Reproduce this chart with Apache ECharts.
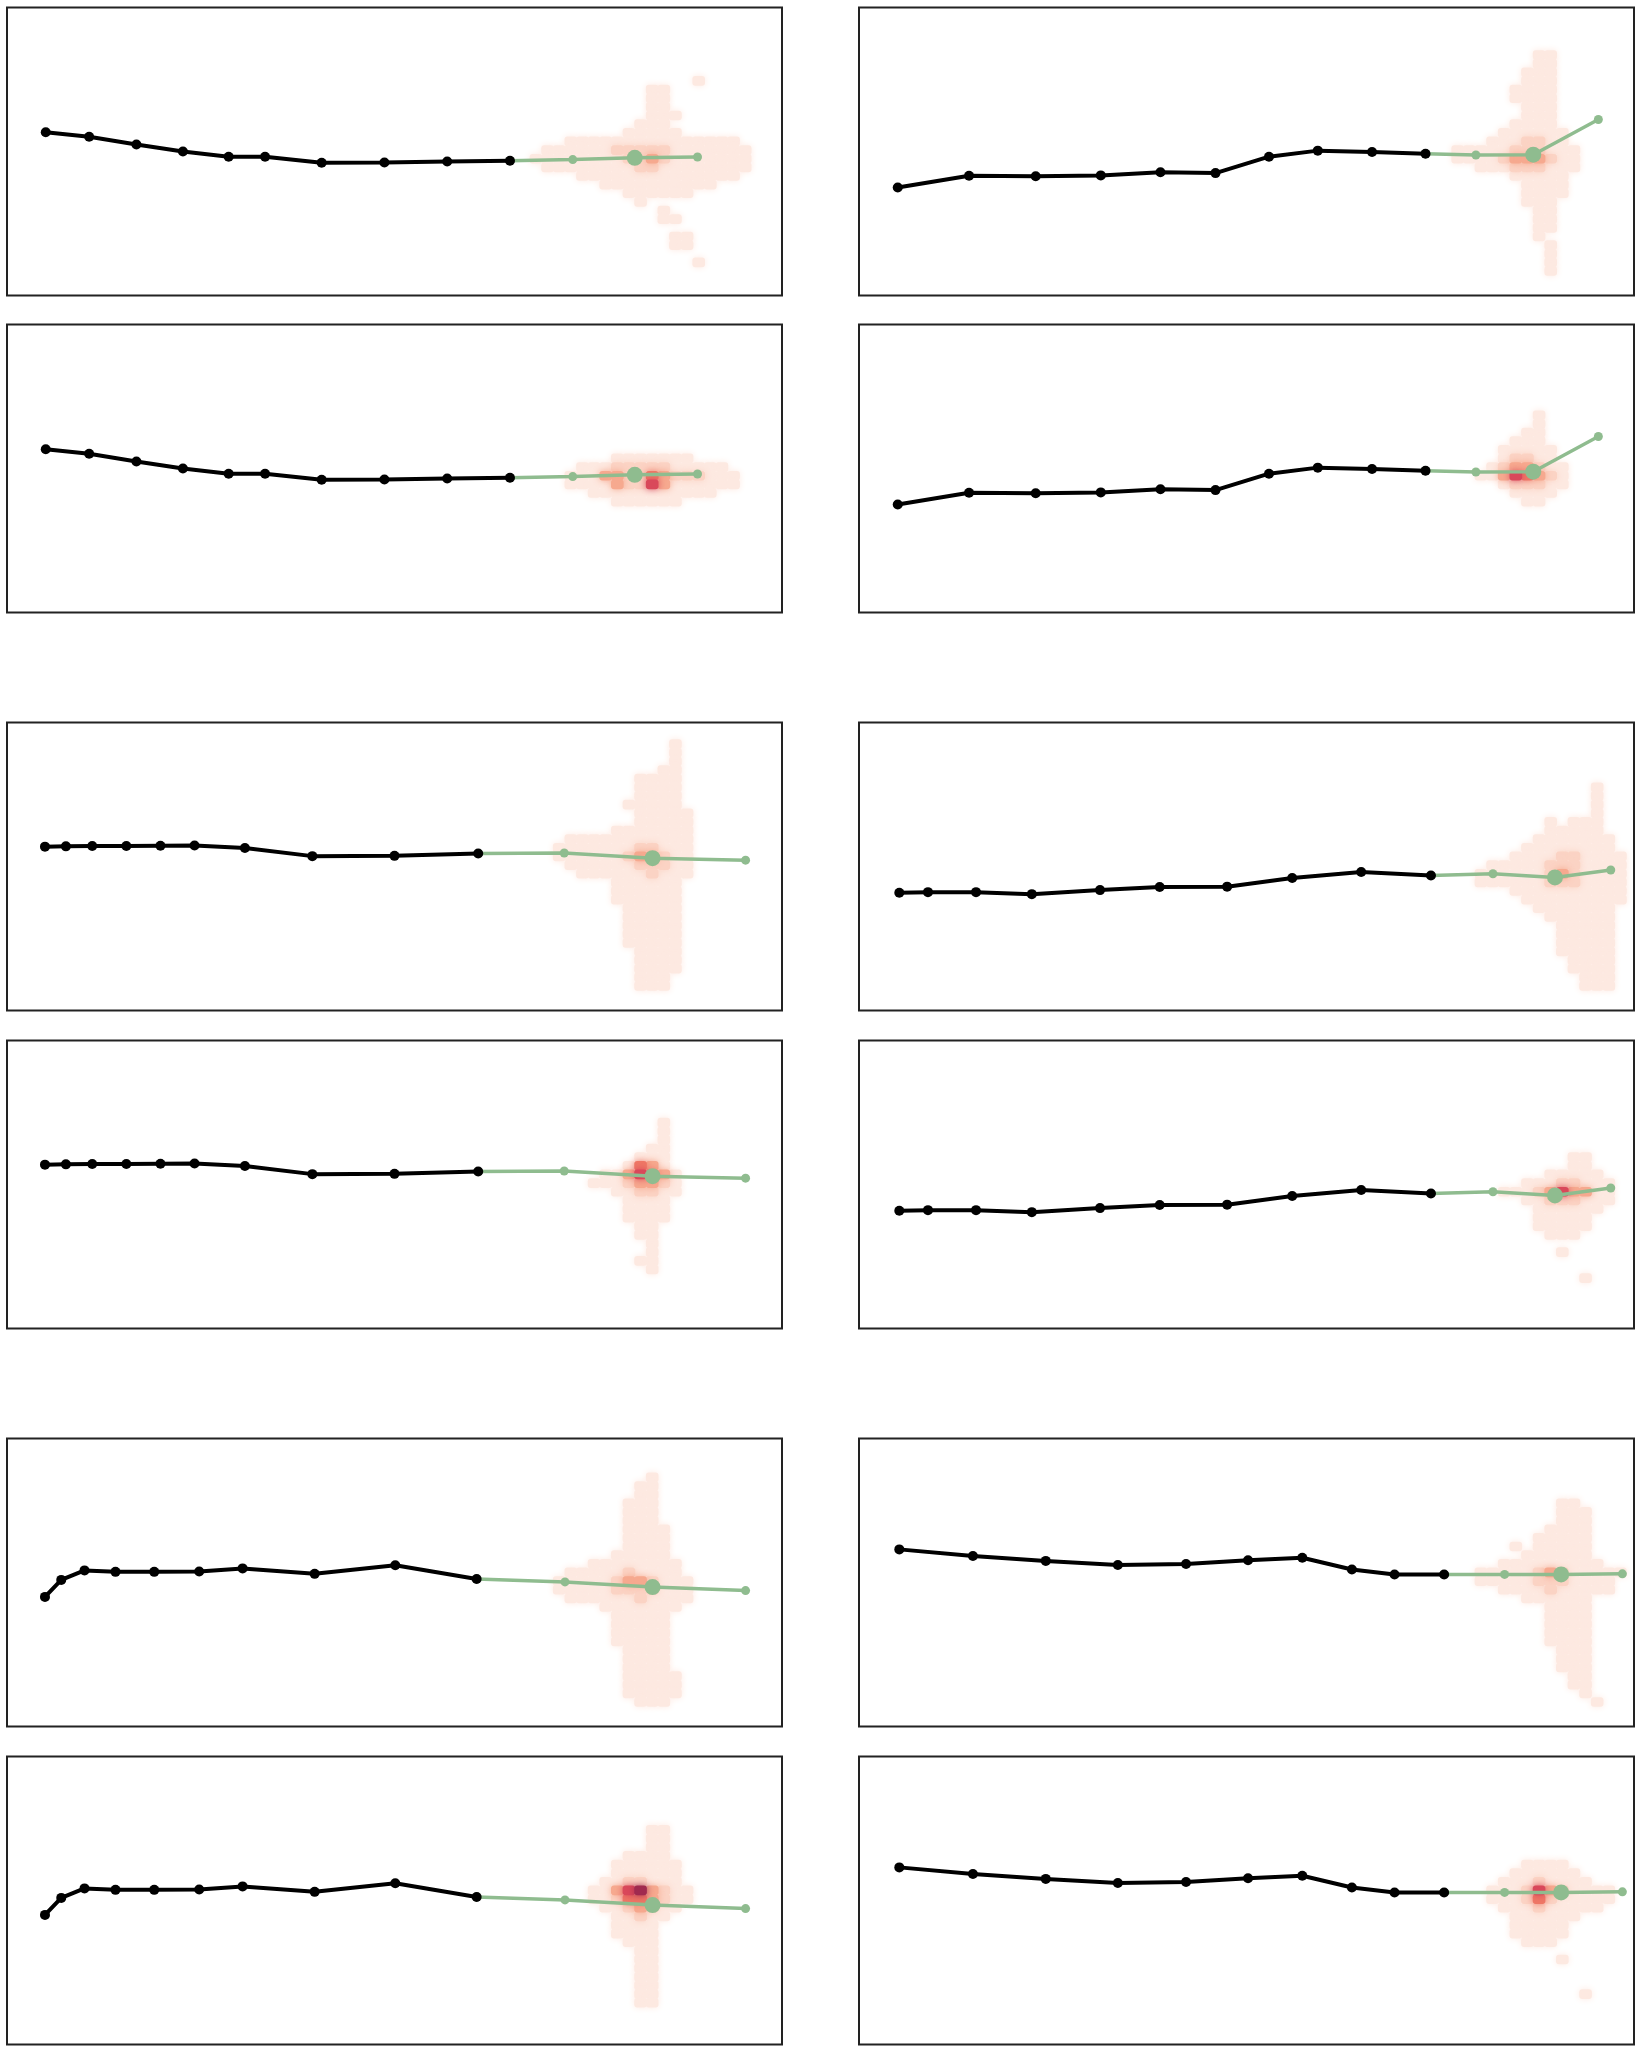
<!DOCTYPE html>
<html>
<head>
<meta charset="utf-8">
<script src="https://cdn.jsdelivr.net/npm/echarts@6/dist/echarts.min.js"></script>
<style>
  html, body { margin: 0; padding: 0; background: #fff; }
  #chart { width: 1643px; height: 2054px; }
</style>
</head>
<body>
<div id="chart"></div>
<script>
// x = position along the time axis (0-100), y = value (0-100)
// history (black) lines, one set per pair of stacked panels
const histX_A = [5.0, 10.6, 16.7, 22.7, 28.6, 33.3, 40.6, 48.7, 56.8, 64.9];
const histY_A = [56.7, 55.1, 52.4, 50.0, 48.2, 48.2, 46.1, 46.2, 46.5, 46.8];
const histX_B = [5.0, 14.2, 22.8, 31.2, 38.9, 46.0, 52.9, 59.2, 66.2, 73.1];
const histY_B = [37.5, 41.6, 41.4, 41.7, 42.8, 42.5, 48.2, 50.3, 49.8, 49.2];
const histX_C = [4.9, 7.6, 11.0, 15.4, 19.8, 24.2, 30.7, 39.4, 50.0, 60.8];
const histY_C = [56.9, 57.0, 57.1, 57.1, 57.2, 57.3, 56.4, 53.6, 53.7, 54.5];
const histX_D = [5.2, 8.9, 15.1, 22.3, 31.1, 38.8, 47.5, 55.9, 64.8, 73.8];
const histY_D = [40.9, 41.1, 41.1, 40.4, 41.8, 42.9, 43.0, 46.0, 48.1, 46.9];
const histX_E = [4.9, 7.0, 10.0, 14.0, 19.0, 24.8, 30.4, 39.7, 50.1, 60.6];
const histY_E = [45.0, 50.9, 54.2, 53.7, 53.7, 53.8, 54.9, 53.0, 56.0, 51.2];
const histX_F = [5.2, 14.7, 24.1, 33.4, 42.2, 50.2, 57.2, 63.6, 69.1, 75.5];
const histY_F = [61.5, 59.2, 57.5, 56.1, 56.4, 57.7, 58.6, 54.5, 52.8, 52.8];

// forecast (green) points, the middle one is the highlighted estimate
const fcX_A = [73.0, 81.0, 89.1];
const fcY_A = [47.2, 47.8, 48.1];
const fcX_B = [79.6, 87.0, 95.4];
const fcY_B = [48.8, 48.9, 61.1];
const fcX_C = [71.9, 83.3, 95.3];
const fcY_C = [54.7, 52.9, 52.2];
const fcX_D = [81.8, 89.8, 97.0];
const fcY_D = [47.5, 46.2, 48.8];
const fcX_E = [72.0, 83.3, 95.3];
const fcY_E = [50.2, 48.4, 47.2];
const fcX_F = [83.3, 90.6, 98.5];
const fcY_F = [52.8, 52.8, 53.0];

// density grid: column c covers x 60+1.5c .. 61.5+1.5c, row r covers y 97-3r .. 100-3r
// entries: [row, first column, intensity per cell (0-6)]
const CELL_X0 = 60, CELL_W = 1.5, CELL_Y0 = 100, CELL_H = 3;

const density1L = [
  [8, 19, '1'], [9, 15, '11'], [10, 15, '11'], [11, 15, '11'], [12, 15, '111'],
  [13, 14, '111'], [14, 13, '11111'], [15, 8, '111111111111111'],
  [16, 6, '111111222221111111'], [17, 5, '1111111122321111111'],
  [18, 6, '111111112211111111'], [19, 9, '11111111111111'], [20, 11, '1111111111'],
  [21, 13, '111111'], [22, 14, '1'], [23, 16, '1'], [24, 16, '11'],
  [26, 17, '11'], [27, 17, '11'], [29, 19, '1']
];
const density2L = [
  [15, 12, '1111111'], [16, 9, '1112222211111'], [17, 8, '111332243222111'],
  [18, 8, '111132253111111'], [19, 10, '11111111111'], [20, 12, '111111']
];
const density1R = [
  [5, 18, '11'], [6, 18, '11'], [7, 17, '111'], [8, 17, '111'], [9, 16, '1111'],
  [10, 16, '1111'], [11, 17, '111'], [12, 17, '111'], [13, 16, '1111'],
  [14, 15, '111111'], [15, 14, '1112211'], [16, 11, '11111222111'],
  [17, 11, '11112333211'], [18, 13, '111222111'], [19, 16, '11111'],
  [20, 17, '1111'], [21, 17, '1111'], [22, 17, '111'], [23, 18, '11'],
  [24, 18, '11'], [25, 18, '11'], [26, 18, '1'], [27, 19, '1'], [28, 19, '1'],
  [29, 19, '1'], [30, 19, '1']
];
const density2R = [
  [10, 18, '1'], [11, 18, '1'], [12, 17, '11'], [13, 16, '111'], [14, 15, '11111'],
  [15, 15, '12211'], [16, 14, '1233211'], [17, 13, '11354321'], [18, 15, '122211'],
  [19, 16, '1111'], [20, 17, '11']
];
const density3L = [
  [2, 17, '1'], [3, 17, '1'], [4, 17, '1'], [5, 16, '11'], [6, 14, '1111'],
  [7, 14, '1111'], [8, 14, '1111'], [9, 13, '11111'], [10, 14, '11111'],
  [11, 14, '11111'], [12, 12, '1111111'], [13, 8, '11111111111'],
  [14, 7, '111111122111'], [15, 7, '111111233211'], [16, 8, '11111122211'],
  [17, 9, '1111112111'], [18, 12, '111111'], [19, 12, '111111'], [20, 12, '111111'],
  [21, 13, '11111'], [22, 13, '11111'], [23, 13, '11111'], [24, 13, '11111'],
  [25, 13, '11111'], [26, 14, '1111'], [27, 14, '1111'], [28, 14, '1111'],
  [29, 14, '111'], [30, 14, '111']
];
const density4L = [
  [9, 16, '1'], [10, 16, '1'], [11, 16, '1'], [12, 15, '11'], [13, 14, '111'],
  [14, 13, '1431'], [15, 11, '1135431'], [16, 10, '11123321'], [17, 12, '112211'],
  [18, 13, '1111'], [19, 13, '1111'], [20, 13, '1111'], [21, 14, '11'],
  [22, 14, '11'], [23, 15, '1'], [24, 15, '1'], [25, 14, '11'], [26, 15, '1']
];
const density3R = [
  [7, 23, '1'], [8, 23, '1'], [9, 23, '1'], [10, 23, '1'], [11, 19, '10111'],
  [12, 19, '11111'], [13, 18, '1111111'], [14, 17, '11111111'],
  [15, 16, '1111221111'], [16, 14, '111112221111'], [17, 13, '1111112321111'],
  [18, 13, '1111112221111'], [19, 16, '1111111111'], [20, 17, '111111111'],
  [21, 18, '1111111'], [22, 19, '111111'], [23, 20, '11111'], [24, 20, '11111'],
  [25, 20, '11111'], [26, 20, '11111'], [27, 21, '1111'], [28, 21, '1111'],
  [29, 22, '111'], [30, 22, '111']
];
const density4R = [
  [13, 21, '11'], [14, 21, '11'], [15, 19, '11111'], [16, 17, '11122111'],
  [17, 15, '1112353311'], [18, 17, '11222111'], [19, 18, '111111'],
  [20, 18, '11111'], [21, 18, '11111'], [22, 19, '111'], [24, 20, '1'], [27, 22, '1']
];
const density5L = [
  [4, 15, '1'], [5, 14, '11'], [6, 14, '11'], [7, 13, '111'], [8, 13, '111'],
  [9, 13, '111'], [10, 13, '1111'], [11, 13, '1111'], [12, 13, '1111'],
  [13, 12, '11111'], [14, 10, '11111111'], [15, 8, '1111121111'],
  [16, 7, '111112332111'], [17, 7, '111112222111'], [18, 8, '11111121111'],
  [19, 11, '1111111'], [20, 12, '11111'], [21, 12, '11111'], [22, 12, '11111'],
  [23, 12, '11111'], [24, 13, '1111'], [25, 13, '1111'], [26, 13, '1111'],
  [27, 13, '11111'], [28, 13, '11111'], [29, 13, '11111'], [30, 14, '111']
];
const density6L = [
  [8, 15, '11'], [9, 15, '11'], [10, 15, '11'], [11, 13, '1111'], [12, 12, '111111'],
  [13, 12, '111111'], [14, 11, '1122111'], [15, 10, '113563211'],
  [16, 10, '112443211'], [17, 11, '1123211'], [18, 12, '11211'], [19, 12, '1111'],
  [20, 12, '1111'], [21, 13, '111'], [22, 14, '11'], [23, 14, '11'], [24, 14, '11'],
  [25, 14, '11'], [26, 14, '11'], [27, 14, '11'], [28, 14, '11']
];
const density5R = [
  [7, 20, '11'], [8, 20, '111'], [9, 20, '111'], [10, 19, '1111'], [11, 18, '11111'],
  [12, 16, '1011111'], [13, 17, '111111'], [14, 15, '111111111'],
  [15, 13, '1111123211111'], [16, 13, '111112221111'], [17, 15, '1111211111'],
  [18, 17, '111111'], [19, 19, '1111'], [20, 19, '1111'], [21, 19, '1111'],
  [22, 19, '1111'], [23, 19, '1111'], [24, 20, '111'], [25, 20, '111'],
  [26, 20, '111'], [27, 21, '11'], [28, 21, '11'], [29, 22, '1'], [30, 23, '1']
];
const density6R = [
  [12, 17, '1111'], [13, 16, '111111'], [14, 15, '11121111'], [15, 14, '11125321111'],
  [16, 14, '11124211111'], [17, 15, '111211111'], [18, 16, '111111'],
  [19, 16, '11111'], [20, 16, '11111'], [21, 17, '111'], [23, 20, '1'], [27, 22, '1']
];

// panel order: row by row, left then right
const panels = [
  [histX_A, histY_A, fcX_A, fcY_A, density1L],
  [histX_B, histY_B, fcX_B, fcY_B, density1R],
  [histX_A, histY_A, fcX_A, fcY_A, density2L],
  [histX_B, histY_B, fcX_B, fcY_B, density2R],
  [histX_C, histY_C, fcX_C, fcY_C, density3L],
  [histX_D, histY_D, fcX_D, fcY_D, density3R],
  [histX_C, histY_C, fcX_C, fcY_C, density4L],
  [histX_D, histY_D, fcX_D, fcY_D, density4R],
  [histX_E, histY_E, fcX_E, fcY_E, density5L],
  [histX_F, histY_F, fcX_F, fcY_F, density5R],
  [histX_E, histY_E, fcX_E, fcY_E, density6L],
  [histX_F, histY_F, fcX_F, fcY_F, density6R]
];

const COL_LEFT = [7, 859];
const ROW_TOP = [7.5, 324.5, 722.5, 1040.5, 1438.5, 1756.5];
const PANEL_W = 775, PANEL_H = 288;
const GREEN = '#8fbc8f';

function expandDensity(rows) {
  const out = [];
  rows.forEach(([r, c0, digits]) => {
    for (let i = 0; i < digits.length; i++) {
      const v = +digits[i];
      if (v > 0) out.push([CELL_X0 + CELL_W * (c0 + i + 0.5), CELL_Y0 - CELL_H * (r + 0.5), v]);
    }
  });
  // lighter cells first so darker cores sit on top
  return out.sort((a, b) => a[2] - b[2]);
}

function renderCell(params, api) {
  const x = api.value(0), y = api.value(1);
  const p0 = api.coord([x - CELL_W / 2, y + CELL_H / 2]);
  const p1 = api.coord([x + CELL_W / 2, y - CELL_H / 2]);
  const color = api.visual('color');
  return {
    type: 'rect',
    shape: { x: p0[0] - 0.5, y: p0[1] - 0.5, width: p1[0] - p0[0] + 1, height: p1[1] - p0[1] + 1, r: 3 },
    style: { fill: color, shadowBlur: 7, shadowColor: color }
  };
}

const grids = [], xAxes = [], yAxes = [], series = [], densityIdx = [];

panels.forEach(([hx, hy, fx, fy, dens], i) => {
  const row = Math.floor(i / 2), col = i % 2;
  grids.push({
    left: COL_LEFT[col], top: ROW_TOP[row], width: PANEL_W, height: PANEL_H,
    show: true, borderColor: '#222', borderWidth: 2, backgroundColor: 'transparent'
  });
  xAxes.push({ type: 'value', gridIndex: i, min: 0, max: 100, show: false });
  yAxes.push({ type: 'value', gridIndex: i, min: 0, max: 100, show: false });

  densityIdx.push(series.length);
  series.push({
    type: 'custom', xAxisIndex: i, yAxisIndex: i, coordinateSystem: 'cartesian2d',
    data: expandDensity(dens), encode: { x: 0, y: 1 },
    renderItem: renderCell, z: 1, silent: true, clip: true
  });

  const hist = hx.map((x, k) => [x, hy[k]]);
  const fc = [hist[hist.length - 1]].concat(fx.map((x, k) => [x, fy[k]]));
  series.push({
    type: 'line', xAxisIndex: i, yAxisIndex: i, data: fc, z: 2,
    symbol: 'circle', showAllSymbol: true,
    symbolSize: (v, p) => (p.dataIndex === 2 ? 16 : 9),
    lineStyle: { color: GREEN, width: 3.5 }, itemStyle: { color: GREEN },
    emphasis: { disabled: true }, silent: true
  });
  series.push({
    type: 'line', xAxisIndex: i, yAxisIndex: i, data: hist, z: 3,
    symbol: 'circle', symbolSize: 10, showAllSymbol: true,
    lineStyle: { color: '#000', width: 4 }, itemStyle: { color: '#000' },
    emphasis: { disabled: true }, silent: true
  });
});

const chart = echarts.init(document.getElementById('chart'));
chart.setOption({
  animation: false,
  backgroundColor: '#fff',
  grid: grids,
  xAxis: xAxes,
  yAxis: yAxes,
  visualMap: {
    show: false, type: 'continuous', min: 1, max: 6, dimension: 2,
    seriesIndex: densityIdx,
    inRange: { color: ['#fde9e1', '#fbd3c4', '#f6a98f', '#ee7766', '#d9485a', '#a02a4f'] }
  },
  series: series
});
</script>
</body>
</html>
